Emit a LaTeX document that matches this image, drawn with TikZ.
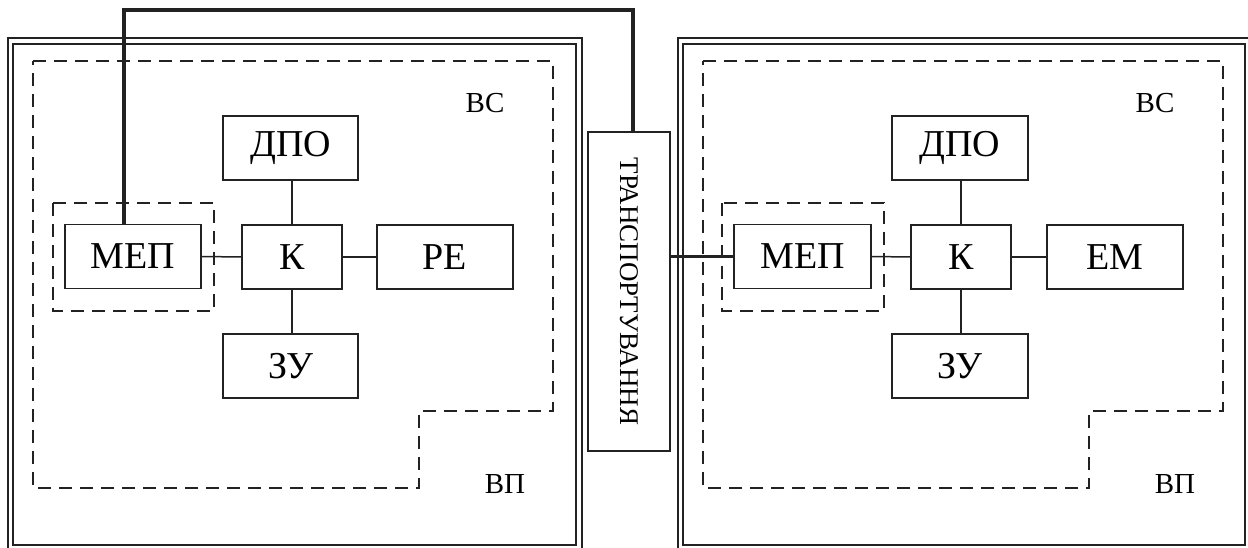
\documentclass[tikz,border=0pt]{standalone}
\usepackage{fontspec}
\setmainfont{Liberation Serif}
\usepackage{xcolor}
\usetikzlibrary{positioning,calc}
\definecolor{ink}{HTML}{222222}
\tikzset{
  unit/.style={draw=ink, line width=1.6pt, minimum height=64pt, inner sep=0pt,
               font=\fontsize{38}{40}\selectfont},
  link/.style={draw=ink, line width=1.5pt},
  bus/.style={draw=ink, line width=3.6pt},
  frame/.style={draw=ink, line width=2.2pt},
  zone/.style={draw=ink, line width=1.6pt, dash pattern=on 13pt off 8pt},
  tag/.style={inner sep=0pt, font=\fontsize{29}{30}\selectfont}
}

\begin{document}
\begin{tikzpicture}[x=1pt,y=-1pt]
        \useasboundingbox (0,0) rectangle (1248,548);
        % two system frames
        \draw[frame] (8,38) rectangle (582,551);
        \draw[frame] (13,44) rectangle (576,545);
        \draw[frame] (678,38) rectangle (1252,551);
        \draw[frame] (683,44) rectangle (1245,545);
        % dashed zones
        \draw[zone] (33,61) -- (553,61) -- (553,411) -- (419,411) -- (419,488) -- (33,488) -- cycle;
        \draw[zone] (703,61) -- (1223,61) -- (1223,411) -- (1089,411) -- (1089,488) -- (703,488) -- cycle;
        \draw[zone] (53,203) rectangle (214,311);
        \draw[zone] (722,203) rectangle (884,311);
        % left system
        \node[unit,minimum width=136pt] (mepL) at (133,256.5) {МЕП};
        \node[unit,minimum width=100pt] (kL)   at (292,257) {К};
        \node[unit,minimum width=135pt] (dpoL) at (290.5,148) {ДПО};
        \node[unit,minimum width=136pt] (reL)  at (445,257) {РЕ};
        \node[unit,minimum width=135pt] (zuL)  at (290.5,366) {ЗУ};
        \node[tag] (vsL) at (485,103) {ВС};
        \node[tag] (vpL) at (505,484) {ВП};
        % right system
        \node[unit,minimum width=137pt] (mepR) at (802.5,256.5) {МЕП};
        \node[unit,minimum width=100pt] (kR)   at (961,257) {К};
        \node[unit,minimum width=136pt] (dpoR) at (960,148) {ДПО};
        \node[unit,minimum width=136pt] (emR)  at (1115,257) {ЕМ};
        \node[unit,minimum width=136pt] (zuR)  at (960,366) {ЗУ};
        \node[tag] (vsR) at (1155,103) {ВС};
        \node[tag] (vpR) at (1175,484) {ВП};
        % transport
        \node[draw=ink,line width=1.6pt,minimum width=319pt,minimum height=82pt,inner sep=0pt,
              rotate=-90,font=\fontsize{27}{28}\selectfont] (trans) at (629,291.5) {ТРАНСПОРТУВАННЯ};
        % links
        \draw[link] (mepL.east) -- (kL.west);
        \draw[link] (kL.east) -- (reL.west);
        \draw[link] (kL.north) -- (kL.north |- dpoL.south);
        \draw[link] (kL.south) -- (kL.south |- zuL.north);
        \draw[link] (mepR.east) -- (kR.west);
        \draw[link] (kR.east) -- (emR.west);
        \draw[link] (kR.north) -- (kR.north |- dpoR.south);
        \draw[link] (kR.south) -- (kR.south |- zuR.north);
        \coordinate (top) at (0,10);
        \draw[bus] ([xshift=-9pt]mepL.north) -- ([xshift=-9pt]mepL.north |- top) -| ([xshift=4pt]trans.west);
        \draw[bus] (trans.north |- mepR.west) -- (mepR.west);
      \end{tikzpicture}
\end{document}
